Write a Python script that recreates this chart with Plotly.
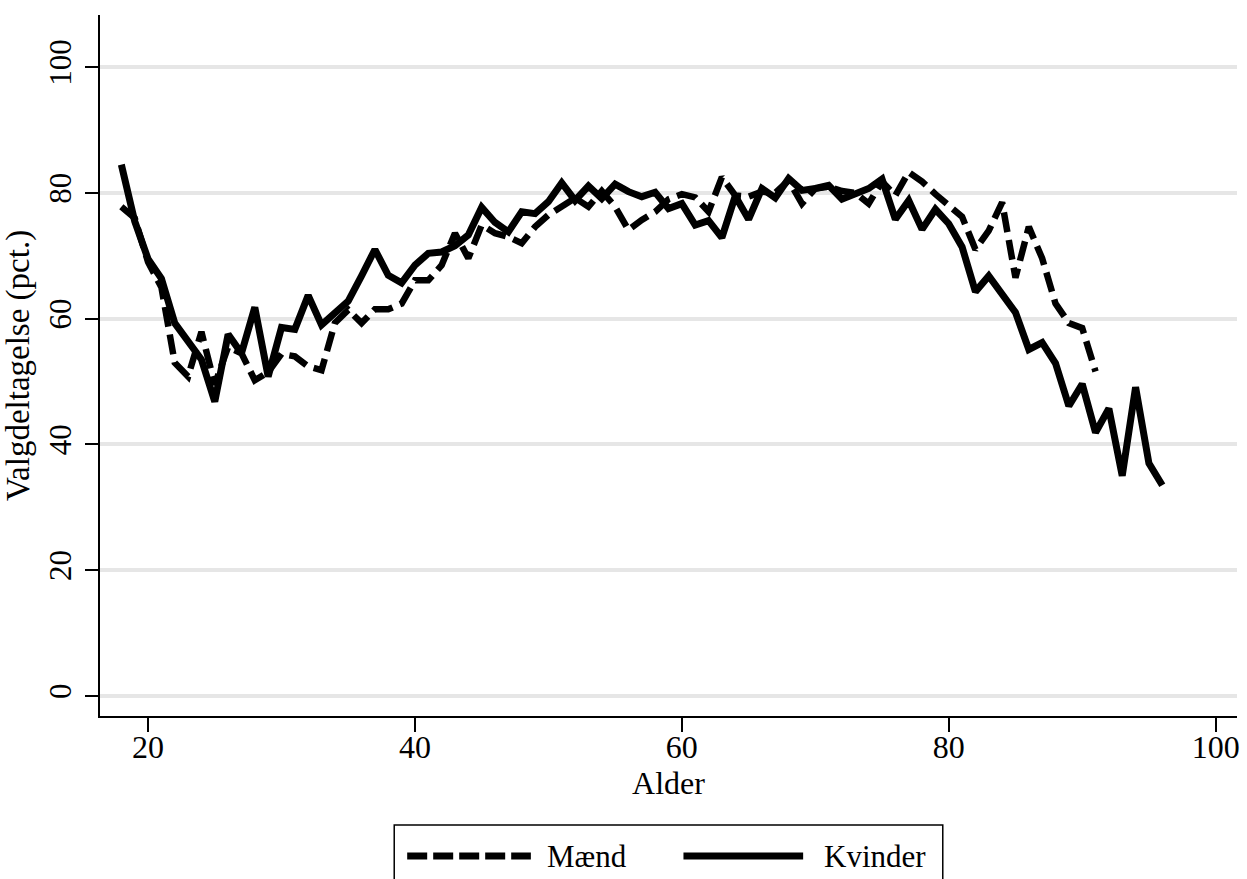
import plotly.graph_objects as go

ages_maend = list(range(18, 92))
maend = [77.8, 76.0, 69.0, 65.0, 53.0, 50.8, 57.9, 49.5, 55.5, 54.5,
         50.2, 51.5, 54.4, 54.0, 52.4, 51.8, 59.3, 61.4, 59.3, 61.5,
         61.5, 62.4, 66.1, 66.1, 68.5, 73.6, 69.6, 74.9, 73.6, 73.0,
         72.0, 74.6, 76.5, 77.8, 79.2, 77.8, 80.3, 77.8, 74.1, 75.7,
         77.0, 79.0, 79.8, 79.3, 77.0, 82.5, 79.6, 79.4, 80.2, 80.0,
         82.0, 78.3, 80.7, 81.0, 80.3, 80.0, 78.3, 81.8, 79.6, 83.3,
         81.8, 79.8, 78.0, 76.2, 71.0, 74.0, 78.5, 66.5, 74.6, 69.6,
         62.4, 59.3, 58.5, 51.6]

ages_kvinder = list(range(18, 97))
kvinder = [84.5, 75.5, 69.5, 66.4, 59.3, 56.3, 53.5, 46.8, 57.5, 54.5,
           61.8, 50.8, 58.6, 58.3, 63.7, 59.0, 61.0, 62.8, 66.8, 71.0,
           66.9, 65.7, 68.5, 70.4, 70.6, 71.6, 73.3, 77.7, 75.3, 73.8,
           77.0, 76.7, 78.6, 81.6, 78.8, 81.1, 79.1, 81.4, 80.2, 79.4,
           80.1, 77.5, 78.3, 74.9, 75.6, 72.9, 79.5, 75.8, 80.7, 79.2,
           82.3, 80.4, 80.7, 81.2, 79.0, 79.9, 80.7, 82.2, 75.8, 78.8,
           74.2, 77.4, 75.1, 71.4, 64.3, 66.8, 64.1, 61.0, 55.1, 56.2,
           52.9, 46.1, 49.6, 41.9, 45.7, 35.0, 49.1, 37.0, 33.5]

x_ticks = [20, 40, 60, 80, 100]
y_ticks = [0, 20, 40, 60, 80, 100]
series_names = ["Mænd", "Kvinder"]

FONT = "Liberation Serif, Times New Roman, serif"

fig = go.Figure()
fig.add_trace(go.Scatter(x=ages_maend, y=maend, mode="lines", name=series_names[0],
                         line=dict(color="black", width=6.5, dash="20px,8px"),
                         showlegend=False))
fig.add_trace(go.Scatter(x=ages_kvinder, y=kvinder, mode="lines", name=series_names[1],
                         line=dict(color="black", width=7),
                         showlegend=False))

fig.update_layout(
    width=1247, height=879,
    margin=dict(l=100, r=7, t=15, b=163),
    paper_bgcolor="white", plot_bgcolor="white",
    font=dict(family=FONT, color="black", size=32),
)
fig.update_xaxes(
    range=[16.4, 101.6], tickvals=x_ticks, ticks="outside", ticklen=14, tickwidth=2,
    tickcolor="black", showline=True, linecolor="black", linewidth=2,
    showgrid=False, zeroline=False,
    title=dict(text="Alder", standoff=6, font=dict(size=32)),
    tickfont=dict(size=32),
    ticklabelstandoff=-12,
)
fig.update_yaxes(
    range=[-3.2, 108.3], tickvals=y_ticks, ticks="outside", ticklen=13, tickwidth=2,
    tickcolor="black", showline=True, linecolor="black", linewidth=2,
    showgrid=True, gridcolor="#e6e6e6", gridwidth=3.5, zeroline=False,
    tickangle=-90,
    title=dict(text="Valgdeltagelse (pct.)", standoff=4, font=dict(size=33)),
    tickfont=dict(size=31),
    ticklabelstandoff=2,
)

# legend box drawn manually to mimic long line samples
def px_x(p):
    return (p - 100) / 1140.0

def px_y(p):
    return (716 - p) / 701.0

fig.add_shape(type="rect", xref="paper", yref="paper",
              x0=px_x(395), x1=px_x(945), y0=px_y(825), y1=px_y(890),
              line=dict(color="black", width=1.5), fillcolor="white")
fig.add_shape(type="line", xref="paper", yref="paper",
              x0=px_x(408), x1=px_x(532), y0=px_y(856), y1=px_y(856),
              line=dict(color="black", width=7, dash="20px,6px"))
fig.add_shape(type="line", xref="paper", yref="paper",
              x0=px_x(685), x1=px_x(805), y0=px_y(856), y1=px_y(856),
              line=dict(color="black", width=7))
fig.add_annotation(xref="paper", yref="paper", x=px_x(546), y=px_y(856),
                   text=series_names[0], showarrow=False, xanchor="left", yanchor="middle",
                   font=dict(size=31))
fig.add_annotation(xref="paper", yref="paper", x=px_x(824), y=px_y(856),
                   text=series_names[1], showarrow=False, xanchor="left", yanchor="middle",
                   font=dict(size=31))

fig.write_html("out.html", config={"displayModeBar": False},
               post_script="document.body.style.margin='0';")
